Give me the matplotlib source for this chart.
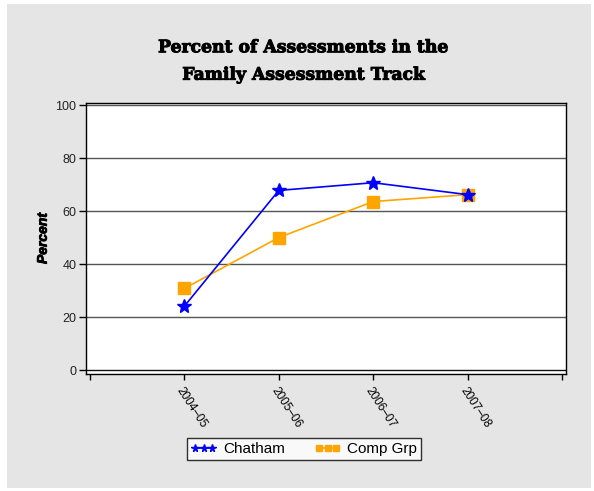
import matplotlib
matplotlib.use("Agg")
import matplotlib.pyplot as plt
import matplotlib.patheffects as pe
from matplotlib.patches import Rectangle

# chart data
years = ['2004–05', '2005–06', '2006–07', '2007–08']
chatham = [24.2, 67.9, 70.8, 66.3]
comp_grp = [30.9, 50.1, 63.7, 66.3]
y_ticks = [0, 20, 40, 60, 80, 100]

plt.rcParams['font.family'] = ['Liberation Sans', 'DejaVu Sans']

fig = plt.figure(figsize=(5.94, 4.91), dpi=100)
fig.patch.set_facecolor('white')
# grey backdrop panel
fig.patches.append(Rectangle((7 / 594, 3 / 491), 584 / 594, 484 / 491,
                             transform=fig.transFigure, facecolor='#e5e5e5',
                             edgecolor='none', zorder=-10))

ax = fig.add_axes([86 / 594, 116.7 / 491, 480 / 594, 271.6 / 491])
ax.set_facecolor('white')

x_pos = list(range(1, len(years) + 1))
ax.plot(x_pos, chatham, color='#0000ff', marker='*', markersize=10,
        linewidth=1.2, label='Chatham', zorder=4)
ax.plot(x_pos, comp_grp, color='#ffa500', marker='s', markersize=8,
        linewidth=1.2, label='Comp Grp', zorder=3)

ax.set_xlim(-0.042, 5.042)
ax.set_ylim(-1.5, 101)
ax.set_yticks(y_ticks)
ax.set_yticklabels([str(v) for v in y_ticks], fontsize=9, color='#222222')
for v in y_ticks:
    ax.axhline(v, color='#555555' if v else '#111111', linewidth=1, zorder=1)

ax.set_xticks(range(0, len(years) + 2))
ax.set_xticklabels([''] + years + [''], fontsize=8.5, rotation=-57,
                   ha='left', va='top', rotation_mode='anchor')
ax.tick_params(axis='x', length=4, width=1, pad=4)
ax.tick_params(axis='y', length=5, width=1, pad=2)

for s in ax.spines.values():
    s.set_color('black')
    s.set_linewidth(1)

ax.set_ylabel('Percent', fontsize=10, fontweight='bold', style='italic',
              labelpad=4,
              path_effects=[pe.withStroke(linewidth=0.6, foreground='black')])

fig.text(0.512, 0.92, 'Percent of Assessments in the\nFamily Assessment Track',
         ha='center', va='top', fontsize=12.4, fontweight='bold',
         family='DejaVu Serif', linespacing=1.8,
         path_effects=[pe.withStroke(linewidth=0.7, foreground='black')])

leg = fig.legend(loc='center', bbox_to_anchor=(0.512, 0.0855), ncol=2,
                 numpoints=3, markerscale=0.55, fontsize=11, frameon=True,
                 fancybox=False, edgecolor='black', handlelength=1.7,
                 handletextpad=0.45, columnspacing=1.9, borderpad=0.25)
leg.get_frame().set_linewidth(1)
leg.get_frame().set_facecolor('white')

fig.savefig('out.png', dpi=100)
